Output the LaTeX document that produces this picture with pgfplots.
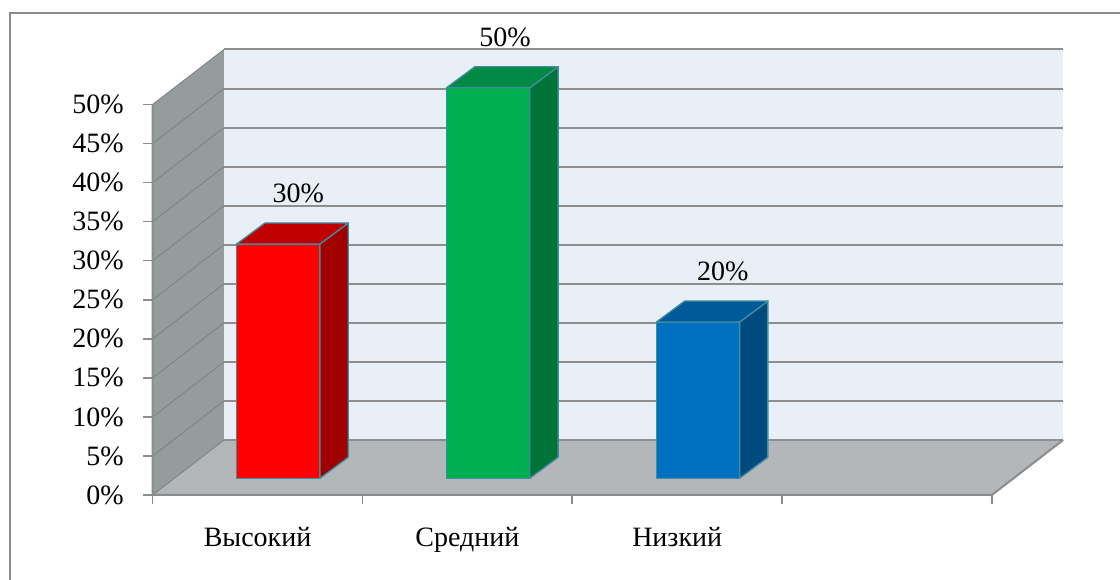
\documentclass[border=0pt]{standalone}
\usepackage{fontspec}
\setmainfont{Liberation Serif}
\usepackage{pgfplots}
\usepackage{pgfplotstable}
\pgfplotsset{compat=1.18}

\definecolor{backwall}{HTML}{E9EFF7}
\definecolor{sidewall}{HTML}{969B9D}
\definecolor{floorc}{HTML}{B4B7B9}
\definecolor{gridc}{HTML}{8E8E8E}
\definecolor{sidegrid}{HTML}{7E8486}
\definecolor{axisc}{HTML}{8C8C8C}
\definecolor{baredge}{HTML}{3E8DA0}
\definecolor{redF}{HTML}{FF0000}
\definecolor{redS}{HTML}{A00000}
\definecolor{redT}{HTML}{C00000}
\definecolor{greenF}{HTML}{00B050}
\definecolor{greenS}{HTML}{007338}
\definecolor{greenT}{HTML}{008A43}
\definecolor{blueF}{HTML}{0070C0}
\definecolor{blueS}{HTML}{004A80}
\definecolor{blueT}{HTML}{005A9A}

\newcommand\lbl{\fontsize{21pt}{24pt}\selectfont}

% data labels: x of label, value
\pgfplotstableread{
lx    v
0.694 30
1.679 50
2.718 20
}\labels

% one 3d bar: slot centre, value, front/side/top colours
\newcommand\threebar[5]{%
  \pgfmathsetmacro\xl{#1+0.099-0.1985}%
  \pgfmathsetmacro\xr{#1+0.099+0.1985}%
  \pgfmathsetmacro\yt{#2+2.14}%
  \pgfmathsetmacro\xlb{\xl+0.135}%
  \pgfmathsetmacro\xrb{\xr+0.135}%
  \pgfmathsetmacro\ybb{2.14+2.69}%
  \pgfmathsetmacro\ytb{\yt+2.69}%
  \edef\temp{%
    \noexpand\addplot[fill=#3,draw=baredge,line width=1pt,line join=round]
      coordinates {(\xl,2.14) (\xr,2.14) (\xr,\yt) (\xl,\yt)} --cycle;
    \noexpand\addplot[fill=#4,draw=baredge,line width=1pt,line join=round]
      coordinates {(\xr,2.14) (\xrb,\ybb) (\xrb,\ytb) (\xr,\yt)} --cycle;
    \noexpand\addplot[fill=#5,draw=baredge,line width=1pt,line join=round]
      coordinates {(\xl,\yt) (\xr,\yt) (\xrb,\ytb) (\xlb,\ytb)} --cycle;
  }\temp
}

\begin{document}
\begin{tikzpicture}
\path[use as bounding box] (-114.5pt,-63.75pt) rectangle (725.5pt,371.25pt);
% frame (only top and left edge are in view)
\draw[axisc,line width=1.5pt] (-107pt,-70pt) -- (-107pt,361.5pt) -- (730pt,361.5pt);
\begin{axis}[
  at={(0,0)}, anchor=south west,
  scale only axis,
  width=682.9pt, height=334.3pt,
  xmin=0, xmax=4.34,
  ymin=0, ymax=57.07,
  clip=false,
  axis lines*=left,
  axis line style={draw=none},
  tick align=outside,
  major tick length=7pt,
  tick style={axisc, line width=1.2pt},
  xtick={0,1,2,3,4},
  xticklabels={},
  extra x ticks={0.5,1.5,2.5},
  extra x tick labels={Высокий,Средний,Низкий},
  extra x tick style={tick style={draw=none}},
  xticklabel style={font=\lbl, anchor=base, inner sep=0pt, yshift=-31.3pt},
  ytick={0,5,10,15,20,25,30,35,40,45,50},
  yticklabels={0\%,5\%,10\%,15\%,20\%,25\%,30\%,35\%,40\%,45\%,50\%},
  yticklabel style={font=\lbl, anchor=east, inner sep=0pt, xshift=-14.5pt},
  /pgf/number format/assume math mode=true,
]
% walls and floor
\fill[backwall] (0.34,7.04) -- (4.34,7.04) -- (4.34,57.07) -- (0.34,57.07) -- cycle;
\fill[sidewall] (0,0) -- (0.34,7.04) -- (0.34,57.07) -- (0,50) -- cycle;
\fill[floorc] (0,0) -- (4,0) -- (4.34,7.04) -- (0.34,7.04) -- cycle;
\pgfplotsinvokeforeach{0,5,10,15,20,25,30,35,40,45,50}{
  \draw[gridc,line width=1.5pt] (0.34,#1+7.04) -- (4.34,#1+7.04);
  \draw[sidegrid,line width=0.7pt] (0,#1) -- (0.34,#1+7.04);
}
\draw[axisc,line width=1.5pt] (0,50) -- (0,0) -- (4,0) -- (4.34,7.04);

% bars
\threebar{0.5}{30}{redF}{redS}{redT}
\threebar{1.5}{50}{greenF}{greenS}{greenT}
\threebar{2.5}{20}{blueF}{blueS}{blueT}

% value labels
\addplot[draw=none, mark=none, point meta=explicit,
  nodes near coords={\pgfmathprintnumber{\pgfplotspointmeta}\%},
  every node near coord/.style={anchor=center, font=\lbl, inner sep=0pt}]
  table[x=lx, y expr=\thisrow{v}+8.6, meta=v] {\labels};
\end{axis}
\end{tikzpicture}
\end{document}
